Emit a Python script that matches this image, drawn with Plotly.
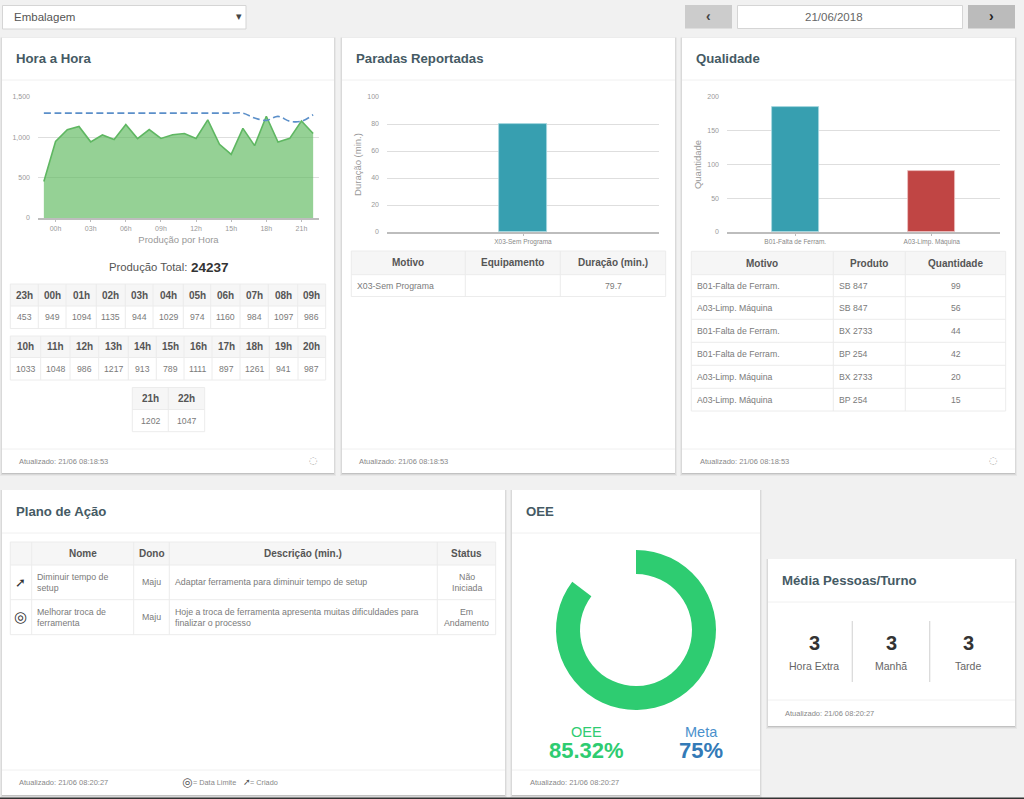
import plotly.graph_objects as go

# ---- data ----
hour_labels = ["23h", "00h", "01h", "02h", "03h", "04h", "05h", "06h", "07h", "08h", "09h", "10h",
               "11h", "12h", "13h", "14h", "15h", "16h", "17h", "18h", "19h", "20h", "21h", "22h"]
hour_values = [453, 949, 1094, 1135, 944, 1029, 974, 1160, 984, 1097, 986, 1033,
               1048, 986, 1217, 913, 789, 1111, 897, 1261, 941, 987, 1202, 1047]
hour_target = [1300, 1300, 1300, 1300, 1300, 1300, 1300, 1300, 1300, 1300, 1300, 1300,
               1300, 1300, 1300, 1300, 1300, 1300, 1240, 1210, 1260, 1200, 1200, 1280]
hour_ticks = ["00h", "03h", "06h", "09h", "12h", "15h", "18h", "21h"]
total_producao = "24237"

paradas_motivos = ["X03-Sem Programa"]
paradas_duracao = [79.7]
paradas_header = ["Motivo", "Equipamento", "Duração (min.)"]
paradas_rows = [["X03-Sem Programa", "", "79.7"]]

qual_motivos = ["B01-Falta de Ferram.", "A03-Limp. Máquina"]
qual_quantidade = [185, 91]
qual_header = ["Motivo", "Produto", "Quantidade"]
qual_rows = [
    ["B01-Falta de Ferram.", "SB 847", "99"],
    ["A03-Limp. Máquina", "SB 847", "56"],
    ["B01-Falta de Ferram.", "BX 2733", "44"],
    ["B01-Falta de Ferram.", "BP 254", "42"],
    ["A03-Limp. Máquina", "BX 2733", "20"],
    ["A03-Limp. Máquina", "BP 254", "15"],
]

plano_header = ["", "Nome", "Dono", "Descrição (min.)", "Status"]
plano_rows = [
    ["➚", "Diminuir tempo de<br>setup", "Maju", "Adaptar ferramenta para diminuir tempo de setup", "Não<br>Iniciada"],
    ["◎", "Melhorar troca de<br>ferramenta", "Maju",
     "Hoje a troca de ferramenta apresenta muitas dificuldades para<br>finalizar o processo", "Em<br>Andamento"],
]

oee_values = [85.32, 14.68]
meta_valor = "75%"
turnos = ["Hora Extra", "Manhã", "Tarde"]
turno_pessoas = ["3", "3", "3"]

W, H = 1024, 799
FONT = "Liberation Sans"
TEAL = "#379fb0"
RED = "#c04544"
GREEN = "#2ecc71"
BLUE = "#337ab7"
TITLE_COL = "#455a64"
TEXT_COL = "#7a7a7a"
HEAD_COL = "#555555"
BORDER = "#ececec"

shapes = []
annotations = []


def px(x):
    return x / W


def py(y):
    return 1 - y / H


def rect(x0, y0, x1, y1, fill, line=None, lw=1):
    shapes.append(dict(type="rect", xref="paper", yref="paper", layer="below",
                       x0=px(x0), x1=px(x1), y0=py(y1), y1=py(y0), fillcolor=fill,
                       line=dict(color=line or fill, width=lw if line else 0)))


def hline(x0, x1, y, color=BORDER, lw=1):
    shapes.append(dict(type="line", xref="paper", yref="paper", layer="below",
                       x0=px(x0), x1=px(x1), y0=py(y), y1=py(y), line=dict(color=color, width=lw)))


def vline(x, y0, y1, color=BORDER, lw=1):
    shapes.append(dict(type="line", xref="paper", yref="paper", layer="below",
                       x0=px(x), x1=px(x), y0=py(y0), y1=py(y1), line=dict(color=color, width=lw)))


def text(x, y, s, size=10, color=TEXT_COL, anchor="center", bold=False, family=FONT, valign="middle"):
    annotations.append(dict(x=px(x), y=py(y), xref="paper", yref="paper", text=s, showarrow=False,
                            xanchor=anchor, yanchor=valign, align=anchor,
                            font=dict(family=family, size=size, color=color, weight="bold" if bold else "normal"),
                            borderpad=0, borderwidth=0))


def card(x0, y0, x1, y1, title, head_y, foot_y=None):
    for off, alpha in [(3, 0.04), (2, 0.06), (1, 0.10)]:
        rect(x0 - off + 1, y0, x1 + off - 1, y1 + off, "rgba(0,0,0,%s)" % alpha)
    rect(x0, y0, x1, y1, "white")
    hline(x0, x1, head_y, "#f0f0f0")
    if foot_y:
        hline(x0, x1, foot_y, "#f0f0f0")
    text(x0 + 14.3, (y0 + head_y) / 2, title, size=13.2, color=TITLE_COL, anchor="left", bold=True)


def table(cols, ys, header, rows, left=(), size=8.7, head_size=10):
    # ys: header top, header bottom, then the bottom of each row
    rect(cols[0], ys[0], cols[-1], ys[1], "#f6f6f6")
    for y in ys:
        hline(cols[0], cols[-1], y)
    for x in cols:
        vline(x, ys[0], ys[-1])
    for i, h in enumerate(header):
        text((cols[i] + cols[i + 1]) / 2, (ys[0] + ys[1]) / 2, h, size=head_size, color=HEAD_COL, bold=True)
    for r, row in enumerate(rows):
        yc = (ys[r + 1] + ys[r + 2]) / 2
        for i, v in enumerate(row):
            if not v:
                continue
            if i in left:
                text(cols[i] + 5.2, yc, v, size=size, anchor="left")
            else:
                text((cols[i] + cols[i + 1]) / 2, yc, v, size=size)


# page
rect(0, 797.5, W, H, "#333333")

# top controls
rect(2.5, 5.5, 246, 29, "white", "#d5d5d5")
text(14, 17, "Embalagem", size=11.5, color="#555555", anchor="left")
text(239, 16.5, "▾", size=11, color="#444444", family="DejaVu Sans")
rect(685, 5, 732, 28.5, "#cccccc")
text(708.5, 16, "‹", size=14, color="#444444", bold=True)
rect(737.5, 5.5, 962.5, 28.5, "white", "#d5d5d5")
text(833.5, 16.5, "21/06/2018", size=11.5, color="#666666")
rect(968, 5, 1015, 28.5, "#bbbbbb")
text(991, 16, "›", size=14, color="#222222", bold=True)

# cards
card(2, 37.5, 334, 473, "Hora a Hora", 80, 449)
card(342, 37.5, 675, 473, "Paradas Reportadas", 80, 449)
card(682, 37.5, 1015, 473, "Qualidade", 80, 449)
card(2, 490, 505, 795, "Plano de Ação", 533, 770)
card(512, 490, 760, 795, "OEE", 533, 770)
card(768, 559, 1015, 726, "Média Pessoas/Turno", 602, 700)

# hour tables
text(186.5, 267.5, "Produção Total:", size=11.3, color="#555555", anchor="right")
text(190.5, 267, total_producao, size=13.5, color="#333333", anchor="left", bold=True)


def hour_table(cols, ys, start):
    n = len(cols) - 1
    table(cols, ys, hour_labels[start:start + n], [[str(v) for v in hour_values[start:start + n]]],
          head_size=10)


hour_table([10.3, 38.3, 66, 96.3, 125.3, 153, 183.3, 210.7, 240, 268.3, 297.7, 325.7], [284, 306, 328.5], 0)
hour_table([10.3, 40.7, 70, 98.7, 128.3, 156.3, 184, 212, 240, 269.3, 298, 325.7], [336, 357.5, 380], 11)
hour_table([132.3, 168.3, 204.7], [387.5, 409.5, 431.7], 22)

table([351.3, 465.3, 560.3, 665.7], [251, 274.7, 296.5], paradas_header, paradas_rows, left=(0,))
table([691.3, 833.3, 905.3, 1005.7], [251.3, 274.7, 296.7, 319.3, 342.3, 365.3, 388.3, 411],
      qual_header, qual_rows, left=(0, 1))
table([10.3, 31.7, 133.7, 169.3, 437.3, 495.7], [542, 565, 599.7, 634.7], plano_header, [], left=())

for r, row in enumerate(plano_rows):
    yc = [582.3, 617.2][r]
    text(20.8, yc, row[0], size=15 if r else 13, color="#333333", family="DejaVu Sans")
    text(36.7, yc, row[1], size=8.8, anchor="left")
    text(151.5, yc, row[2], size=8.8)
    text(174.7, yc, row[3], size=8.8, anchor="left")
    text(466.5, yc, row[4], size=8.8)

# footers
for x, y, s in [(19, 461, "Atualizado: 21/06 08:18:53"), (359, 461, "Atualizado: 21/06 08:18:53"),
                (699.5, 461, "Atualizado: 21/06 08:18:53"), (19, 782, "Atualizado: 21/06 08:20:27"),
                (529.5, 782, "Atualizado: 21/06 08:20:27"), (784.5, 713, "Atualizado: 21/06 08:20:27")]:
    text(x, y, s, size=7.5, color="#888888", anchor="left")
for x in [313, 993]:
    text(x, 460.5, "◌", size=10, color="#aaaaaa", family="DejaVu Sans")
text(187, 782, "◎", size=12, color="#555555", family="DejaVu Sans")
text(192.5, 782, "= Data Limite", size=7.3, color="#888888", anchor="left")
text(246.5, 782, "➚", size=9, color="#555555", family="DejaVu Sans")
text(250, 782, "= Criado", size=7.3, color="#888888", anchor="left")

# OEE figures
text(586, 731.5, "OEE", size=14.5, color=GREEN)
text(586, 750, "%.2f%%" % oee_values[0], size=22, color=GREEN, bold=True)
text(701, 731.5, "Meta", size=14.5, color="#4a90cc")
text(701, 750, meta_valor, size=22, color=BLUE, bold=True)

# people per shift
for i, (nome, n) in enumerate(zip(turnos, turno_pessoas)):
    x = [814, 891, 968.3][i]
    text(x, 643, n, size=20, color="#333333", bold=True)
    text(x, 665.7, nome, size=10.5, color="#666666")
vline(852.3, 621, 682, "#d8d8d8", 1.2)
vline(929.7, 621, 682, "#d8d8d8", 1.2)

fig = go.Figure()

# Hora a Hora
fig.add_trace(go.Scatter(x=hour_labels, y=hour_values, mode="lines", fill="tozeroy",
                         line=dict(color="#5fb762", width=1.6), fillcolor="rgba(92,184,92,0.65)",
                         xaxis="x", yaxis="y"))
fig.add_trace(go.Scatter(x=hour_labels, y=hour_target, mode="lines",
                         line=dict(color="#5b8fc9", width=1.6, dash="7px,3.5px", shape="spline"),
                         xaxis="x", yaxis="y"))

# Paradas
fig.add_trace(go.Bar(x=paradas_motivos, y=paradas_duracao, width=0.173, marker=dict(color=TEAL, line=dict(color="#a8d8e0", width=0.8)),
                     xaxis="x2", yaxis="y2"))

# Qualidade
fig.add_trace(go.Bar(x=qual_motivos, y=qual_quantidade, width=0.346,
                     marker=dict(color=[TEAL, RED], line=dict(color=["#a8d8e0", "#ecc2c2"], width=0.8)),
                     xaxis="x3", yaxis="y3"))

# OEE donut
fig.add_trace(go.Pie(values=oee_values, hole=0.7, sort=False, direction="clockwise", rotation=0,
                     marker=dict(colors=[GREEN, "rgba(0,0,0,0)"], line=dict(width=0)),
                     textinfo="none", hoverinfo="none",
                     domain=dict(x=[px(556), px(716)], y=[py(710), py(550)])))

tick_font = dict(family=FONT, size=7, color="#999999")
small_font = dict(family=FONT, size=6.5, color="#888888")
title_font = dict(family=FONT, size=9.5, color="#999999")


def x_axis(left, right, tickfont, **kw):
    return dict(domain=[px(left), px(right)], type="category", showgrid=False, showline=True, linecolor="#bdbdbd",
                linewidth=1.5, ticks="outside", ticklen=2.5, tickcolor="#bdbdbd", tickfont=tickfont,
                tickangle=0, fixedrange=True, **kw)


def y_axis(ticks, rng, anchor, title=None, fmt=None):
    d = dict(domain=[py(218 if anchor == "x" else 232), py(97)], range=rng, tickmode="array", tickvals=ticks,
             showgrid=True, gridcolor="#dedede", gridwidth=1.2, zeroline=False, showline=False, ticks="",
             ticklabelstandoff=7, tickfont=tick_font, anchor=anchor, fixedrange=True)
    if fmt:
        d["tickformat"] = fmt
    if title:
        d["title"] = dict(text=title, font=title_font, standoff=3)
    return d


fig.update_layout(
    width=W, height=H, autosize=False,
    margin=dict(l=0, r=0, t=0, b=0, autoexpand=False),
    paper_bgcolor="#f1f1f1", plot_bgcolor="rgba(0,0,0,0)",
    showlegend=False, hovermode=False, bargap=0,
    shapes=shapes, annotations=annotations,
    xaxis=x_axis(38, 319, tick_font, range=[-0.5, 23.5], tickmode="array", tickvals=hour_ticks, anchor="y",
                 title=dict(text="Produção por Hora", font=title_font, standoff=6)),
    yaxis=y_axis([0, 500, 1000, 1500], [0, 1500], "x", fmt=",d"),
    xaxis2=x_axis(387, 659, small_font, range=[-0.5, 0.5], anchor="y2"),
    yaxis2=y_axis([0, 20, 40, 60, 80, 100], [0, 100], "x2", title="Duração (min.)"),
    xaxis3=x_axis(727, 1000, small_font, range=[-0.5, 1.5], anchor="y3"),
    yaxis3=y_axis([0, 50, 100, 150, 200], [0, 200], "x3", title="Quantidade"),
)

fig.write_html("out.html", config={"displayModeBar": False},
               post_script="document.body.style.margin='0';document.body.style.overflow='hidden';")
